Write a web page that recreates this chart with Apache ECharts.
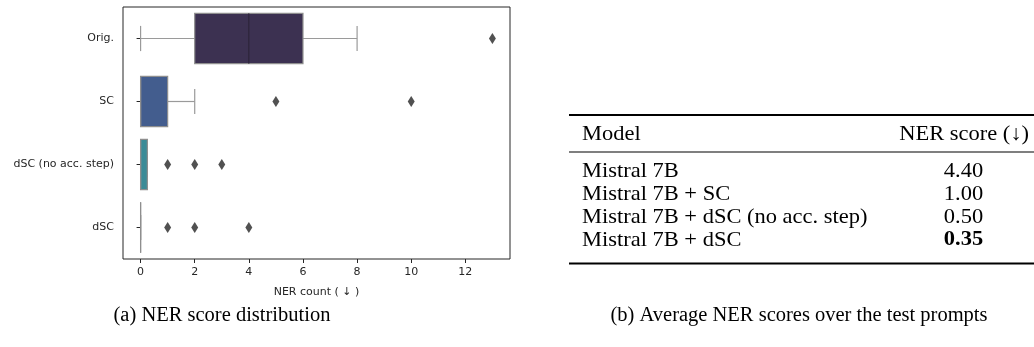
<!DOCTYPE html>
<html>
<head>
<meta charset="utf-8">
<script src="https://cdn.jsdelivr.net/npm/echarts@6/dist/echarts.min.js"></script>
<style>
  html, body { margin: 0; padding: 0; background: #fff; }
  #chart { width: 1034px; height: 347px; }
</style>
</head>
<body>
<div id="chart"></div>
<script>
  // (a) box plot data, one entry per category
  const categories = ['Orig.', 'SC', 'dSC (no acc. step)', 'dSC'];
  const whiskerLow = [0, 0, 0, 0];
  const q1 = [2, 0, 0, 0];
  const median = [4, 0, 0, 0];
  const q3 = [6, 1, 0.25, 0];
  const whiskerHigh = [8, 2, 0.25, 0];
  const outliers = [[13], [5, 10], [1, 2, 3], [1, 2, 4]];

  // (b) table
  const tableModels = ['Mistral 7B', 'Mistral 7B + SC', 'Mistral 7B + dSC (no acc. step)', 'Mistral 7B + dSC'];
  const tableScores = ['4.40', '1.00', '0.50', '0.35'];

  const boxColors = ['#3c3151', '#435d8e', '#3b8b97', '#3f9f86'];
  const lineGrey = '#9a9a9a';
  const ink = '#262626';

  let boxData = categories.map((c, i) => [i, whiskerLow[i], q1[i], median[i], q3[i], whiskerHigh[i]]);
  let outlierData = [];
  outliers.forEach((arr, i) => {
    arr.forEach(v => outlierData.push([v, i]));
  });

  function renderBox(params, api) {
    let ci = api.value(0);
    let band = api.size([0, 1])[1];
    let h = band * 0.8;
    let lo = api.coord([api.value(1), ci]);
    let b1 = api.coord([api.value(2), ci]);
    let md = api.coord([api.value(3), ci]);
    let b3 = api.coord([api.value(4), ci]);
    let hi = api.coord([api.value(5), ci]);
    let y = lo[1];
    let lineStyle = { stroke: lineGrey, lineWidth: 1.2, fill: null };
    // median reads dark only when it sits inside the filled box
    let inside = md[0] > b1[0] + 0.5 && md[0] < b3[0] - 0.5;
    return {
      type: 'group',
      children: [
        { type: 'line', shape: { x1: lo[0], y1: y, x2: b1[0], y2: y }, style: lineStyle },
        { type: 'line', shape: { x1: b3[0], y1: y, x2: hi[0], y2: y }, style: lineStyle },
        { type: 'line', shape: { x1: lo[0], y1: y - h / 4, x2: lo[0], y2: y + h / 4 }, style: lineStyle },
        { type: 'line', shape: { x1: hi[0], y1: y - h / 4, x2: hi[0], y2: y + h / 4 }, style: lineStyle },
        {
          type: 'rect',
          shape: { x: b1[0], y: y - h / 2, width: b3[0] - b1[0], height: h },
          style: { fill: boxColors[ci], stroke: '#8e8e8e', lineWidth: 1.2 }
        },
        {
          type: 'line',
          shape: { x1: md[0], y1: y - h / 2, x2: md[0], y2: y + h / 2 },
          style: { stroke: inside ? '#2a2236' : '#8e8e8e', lineWidth: inside ? 1 : 1.2 }
        }
      ]
    };
  }

  // table helper
  const tfont = 'Liberation Serif, Times New Roman, serif';
  function txt(x, y, s, align, bold, size, sx) {
    return {
      type: 'text', x: x, y: y, scaleX: sx || 1.07,
      style: {
        text: s, fill: '#000', align: align, verticalAlign: 'middle',
        fontFamily: tfont, fontSize: size || 21, fontWeight: bold ? 'bold' : 'normal'
      }
    };
  }
  function rule(y, w) {
    return { type: 'rect', shape: { x: 569, y: y - w / 2, width: 465, height: w }, style: { fill: '#000' } };
  }

  let graphics = [
    rule(115, 2), rule(152, 1.2), rule(263.5, 2),
    txt(582, 134, 'Model', 'left'),
    txt(1029, 134, 'NER score (↓)', 'right')
  ];
  tableModels.forEach((m, i) => {
    let y = 171 + i * 23;
    graphics.push(txt(582, y, m, 'left'));
    graphics.push(txt(963.5, y, tableScores[i], 'center', i === tableModels.length - 1));
  });
  graphics.push(txt(222, 316, '(a) NER score distribution', 'center', false, 20.5, 1.0));
  graphics.push(txt(799, 316, '(b) Average NER scores over the test prompts', 'center', false, 20.5, 1.0));

  let myChart = echarts.init(document.getElementById('chart'), null, { renderer: 'canvas' });
  let options = {
    backgroundColor: '#fff',
    animation: false,
    textStyle: { fontFamily: 'DejaVu Sans' },
    grid: {
      left: 123, top: 7, width: 387, height: 252,
      show: true, borderColor: ink, borderWidth: 1, backgroundColor: 'transparent'
    },
    xAxis: {
      type: 'value',
      min: -0.65,
      max: 13.65,
      splitNumber: 7,
      minInterval: 2,
      maxInterval: 2,
      name: 'NER count ( ↓ )',
      nameLocation: 'middle',
      nameGap: 28,
      nameTextStyle: { color: ink, fontSize: 11, fontFamily: 'DejaVu Sans' },
      axisLine: { show: false },
      axisTick: { show: true, length: 4, lineStyle: { color: ink } },
      axisLabel: {
        color: ink, fontSize: 11, margin: 8, fontFamily: 'DejaVu Sans',
        showMinLabel: false, showMaxLabel: false,
        formatter: v => (Math.abs(v - Math.round(v)) < 1e-6 ? String(Math.round(v)) : '')
      },
      splitLine: { show: false }
    },
    yAxis: {
      type: 'category',
      inverse: true,
      data: categories,
      axisLine: { show: false },
      axisTick: { show: true, alignWithLabel: true, length: 4, lineStyle: { color: ink } },
      axisLabel: { color: ink, fontSize: 11, margin: 9, fontFamily: 'DejaVu Sans' },
      splitLine: { show: false }
    },
    series: [
      {
        name: 'box',
        type: 'custom',
        renderItem: renderBox,
        encode: { x: [1, 2, 3, 4, 5], y: 0 },
        data: boxData,
        z: 2
      },
      {
        name: 'outliers',
        type: 'scatter',
        symbol: 'diamond',
        symbolSize: [7, 11],
        itemStyle: { color: ink },
        data: outlierData,
        z: 3
      }
    ],
    graphic: graphics
  };

  myChart.setOption(options);
</script>
</body>
</html>
